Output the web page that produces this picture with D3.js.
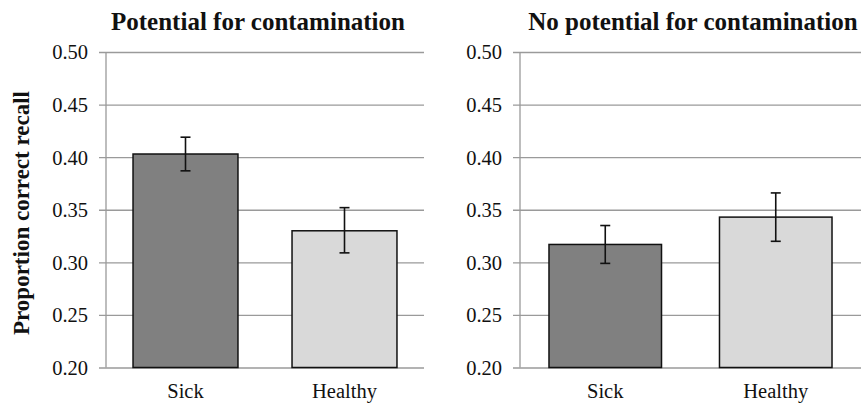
<!DOCTYPE html>
<html>
<head>
<meta charset="utf-8">
<script src="https://cdn.jsdelivr.net/npm/d3@7"></script>
<style>
  body { margin: 0; background: #fff; }
  svg { display: block; }
  svg text { font-family: "Liberation Serif", "Times New Roman", serif; }
</style>
</head>
<body>
<div id="chart"></div>
<script>
const categories = ["Sick", "Healthy"];
const panelTitles = ["Potential for contamination", "No potential for contamination"];
const means = [[0.403, 0.330], [0.317, 0.343]];
const errLow = [[0.387, 0.309], [0.299, 0.320]];
const errHigh = [[0.419, 0.352], [0.335, 0.366]];
const yTicks = [0.20, 0.25, 0.30, 0.35, 0.40, 0.45, 0.50];
const barColors = ["#808080", "#d9d9d9"];

const width = 866, height = 404;
const plotTop = 52, plotBottom = 367.5;
// each panel: left edge of plot, right edge, title centre
const panels = [
  { x0: 106, x1: 424, titleX: 258 },
  { x0: 520, x1: 861, titleX: 693 }
];

let svg = d3.select("#chart")
            .append("svg")
            .attr("width", width)
            .attr("height", height);

let y = d3.scaleLinear().domain([0.2, 0.5]).range([plotBottom, plotTop]);

panels.forEach((p, pi) => {
  let x = d3.scaleBand()
            .domain(categories)
            .range([p.x0, p.x1])
            .paddingInner(0.34)
            .paddingOuter(0.17);

  let g = svg.append("g");

  // gridlines + tick labels through a left axis
  let axis = d3.axisLeft(y)
               .tickValues(yTicks)
               .tickFormat(d3.format(".2f"));
  let ag = g.append("g")
            .attr("transform", `translate(${p.x0}, 0)`)
            .call(axis)
            .attr("font-family", null)
            .attr("font-size", null);
  ag.select(".domain").remove();
  ag.selectAll(".tick line")
    .attr("x1", -7)
    .attr("x2", p.x1 - p.x0)
    .attr("stroke", "#9a9a9a")
    .attr("stroke-width", 1.3);
  ag.selectAll(".tick text")
    .attr("x", -18)
    .attr("dy", "0.34em")
    .attr("fill", "#111")
    .style("font-size", "20.5px");

  // vertical axis line
  g.append("line")
    .attr("x1", p.x0).attr("x2", p.x0)
    .attr("y1", plotTop).attr("y2", plotBottom)
    .attr("stroke", "#9a9a9a")
    .attr("stroke-width", 1.3);

  // bars
  g.selectAll("rect.bar")
    .data(means[pi])
    .enter()
    .append("rect")
    .attr("class", "bar")
    .attr("x", (d, i) => x(categories[i]))
    .attr("y", d => y(d))
    .attr("width", x.bandwidth())
    .attr("height", d => y(0.2) - y(d))
    .attr("fill", (d, i) => barColors[i])
    .attr("stroke", "#111")
    .attr("stroke-width", 1.5);

  // error bars
  let cx = i => x(categories[i]) + x.bandwidth() / 2;
  means[pi].forEach((d, i) => {
    let lo = y(errLow[pi][i]), hi = y(errHigh[pi][i]);
    g.append("line")
      .attr("x1", cx(i)).attr("x2", cx(i))
      .attr("y1", lo).attr("y2", hi)
      .attr("stroke", "#111").attr("stroke-width", 1.6);
    [lo, hi].forEach(v => {
      g.append("line")
        .attr("x1", cx(i) - 5).attr("x2", cx(i) + 5)
        .attr("y1", v).attr("y2", v)
        .attr("stroke", "#111").attr("stroke-width", 1.6);
    });
  });

  // category labels
  g.selectAll("text.cat")
    .data(categories)
    .enter()
    .append("text")
    .attr("class", "cat")
    .attr("x", d => x(d) + x.bandwidth() / 2)
    .attr("y", 398)
    .attr("text-anchor", "middle")
    .style("font-size", "20.5px")
    .attr("fill", "#111")
    .text(d => d);

  // panel title
  g.append("text")
    .attr("x", p.titleX)
    .attr("y", 30)
    .attr("text-anchor", "middle")
    .style("font-size", "25px")
    .style("font-weight", "bold")
    .attr("fill", "#111")
    .text(panelTitles[pi]);
});

// y axis title
svg.append("text")
  .attr("transform", "translate(29, 213) rotate(-90)")
  .attr("text-anchor", "middle")
  .style("font-size", "23px")
  .style("font-weight", "bold")
  .attr("fill", "#111")
  .text("Proportion correct recall");
</script>
</body>
</html>
